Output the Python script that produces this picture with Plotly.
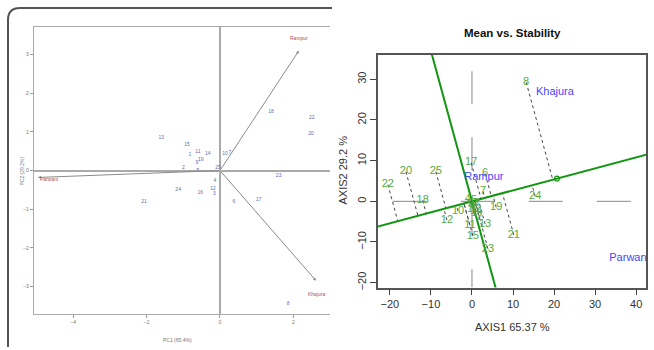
import numpy as np
import plotly.graph_objects as go

W, H = 654, 350

# ---------------- Left panel: PCA biplot ----------------
left_gen_labels = ["13", "15", "1", "11", "14", "9", "19", "10", "7", "2", "5", "25",
                   "4", "23", "24", "16", "12", "3", "21", "6", "17", "8", "18", "22", "20"]
left_gen_x = [-1.6, -0.9, -0.82, -0.6, -0.33, -0.63, -0.52, 0.14, 0.27, -1.0, -0.6, -0.05,
              -0.14, 1.6, -1.14, -0.54, -0.19, -0.15, -2.07, 0.38, 1.06, 1.86, 1.39, 2.5, 2.48]
left_gen_y = [0.85, 0.67, 0.41, 0.49, 0.44, 0.21, 0.28, 0.44, 0.46, 0.08, 0.0, 0.08,
              -0.26, -0.13, -0.5, -0.57, -0.47, -0.6, -0.8, -0.8, -0.76, -3.46, 1.51, 1.36, 0.95]
left_env_names = ["Rampur", "Khajura", "Parwani"]
left_env_x = [2.15, 2.62, -4.96]
left_env_y = [3.1, -2.85, -0.18]
left_x_ticks = [-4, -2, 0, 2]
left_y_ticks = [-3, -2, -1, 0, 1, 2, 3]
left_x_title = "PC1 (65.4%)"
left_y_title = "PC2 (29.2%)"

# ---------------- Right panel: Mean vs. Stability ----------------
gen_labels = ["8", "20", "25", "17", "6", "22", "18", "7", "24", "19", "10", "12", "13",
              "11", "15", "21", "23", "4", "5", "9", "3", "14", "16", "1", "2"]
gen_x = [13.2, -16.1, -8.8, -0.2, 3.2, -20.5, -12.0, 2.7, 15.4, 5.9, -3.4, -6.1, 3.2,
         -0.5, 0.2, 10.2, 3.9, -1.0, 0.5, -0.3, 1.0, 1.0, 0.3, 0.5, 1.8]
gen_y = [29.3, 7.3, 7.3, 9.5, 6.8, 4.1, 0.2, 2.4, 1.2, -1.5, -2.4, -4.6, -5.6,
         -5.9, -8.5, -8.3, -11.7, 0.5, 0.3, -0.8, -0.5, -2.5, -2.0, -3.0, -3.8]
env_names = ["Khajura", "Rampur", "Parwani"]
env_x = [20.2, 2.9, 38.3]
env_y = [26.8, 5.9, -14.1]
avg_env = [20.7, 5.6]          # average environment coordinate
right_x_ticks = [-20, -10, 0, 10, 20, 30, 40]
right_y_ticks = [-20, -10, 0, 10, 20, 30]
right_title = "Mean vs. Stability"
right_x_title = "AXIS1 65.37 %"
right_y_title = "AXIS2 29.2 %"


def px(x):
    return x / W


def py(y):
    return 1 - y / H


FONT = "Liberation Sans, Arial, sans-serif"
GEN_COL = "#5aaa3c"
ENV_COL = "#4646ff"
ATC_COL = "#129612"

fig = go.Figure()

# ---- left panel traces
fig.add_trace(go.Scatter(
    x=left_gen_x, y=left_gen_y, text=left_gen_labels, mode="text",
    textfont=dict(family=FONT, size=5, color="#6a6ab0"),
    xaxis="x", yaxis="y", hoverinfo="skip", showlegend=False))

annotations = []
for name, ex, ey in zip(left_env_names, left_env_x, left_env_y):
    annotations.append(dict(
        x=ex, y=ey, ax=0, ay=0, xref="x", yref="y", axref="x", ayref="y",
        showarrow=True, arrowhead=2, arrowsize=0.6, arrowwidth=1,
        arrowcolor="#8a8a8a", text=""))
shifts = {"Rampur": (0, 13), "Khajura": (0, -13), "Parwani": (11, -2)}
for name, ex, ey in zip(left_env_names, left_env_x, left_env_y):
    xs, ys = shifts[name]
    annotations.append(dict(
        x=ex, y=ey, xref="x", yref="y", text=name, showarrow=False,
        xanchor="center", yanchor="middle",
        xshift=xs, yshift=ys, font=dict(family=FONT, size=5, color="#b05050")))

# ---- right panel traces
d = np.array(avg_env, dtype=float)
d = d / np.linalg.norm(d)
perp = np.array([-d[1], d[0]])
T = np.array([-200.0, 200.0])

# projections (dotted)
px_list, py_list = [], []
for gx, gy in zip(gen_x, gen_y):
    t = gx * d[0] + gy * d[1]
    px_list += [gx, t * d[0], None]
    py_list += [gy, t * d[1], None]
fig.add_trace(go.Scatter(
    x=px_list, y=py_list, mode="lines",
    line=dict(color="#444444", width=1, dash="dot"),
    xaxis="x2", yaxis="y2", hoverinfo="skip", showlegend=False))

# ATC abscissa and ordinate
fig.add_trace(go.Scatter(
    x=T * d[0], y=T * d[1], mode="lines", line=dict(color=ATC_COL, width=2),
    xaxis="x2", yaxis="y2", hoverinfo="skip", showlegend=False))
fig.add_trace(go.Scatter(
    x=T * perp[0], y=T * perp[1], mode="lines", line=dict(color=ATC_COL, width=2),
    xaxis="x2", yaxis="y2", hoverinfo="skip", showlegend=False))
fig.add_trace(go.Scatter(
    x=[avg_env[0]], y=[avg_env[1]], mode="markers",
    marker=dict(symbol="circle-open", size=5, color=ATC_COL, line=dict(width=1.2)),
    xaxis="x2", yaxis="y2", hoverinfo="skip", showlegend=False))

fig.add_trace(go.Scatter(
    x=gen_x, y=gen_y, text=gen_labels, mode="text",
    textfont=dict(family=FONT, size=11, color=GEN_COL),
    xaxis="x2", yaxis="y2", hoverinfo="skip", showlegend=False))
fig.add_trace(go.Scatter(
    x=env_x, y=env_y, text=env_names, mode="text",
    textfont=dict(family=FONT, size=11, color=ENV_COL),
    xaxis="x2", yaxis="y2", hoverinfo="skip", showlegend=False, cliponaxis=True))

shapes = [
    # dashed reference lines through origin (right panel)
    dict(type="line", xref="x2", yref="y2", x0=-19.3, x1=42.4, y0=0, y1=0,
         line=dict(color="#888888", width=1, dash="34px,34px"), layer="below"),
    dict(type="line", xref="x2", yref="y2", x0=0, x1=0, y0=32.0, y1=-21.2,
         line=dict(color="#888888", width=1, dash="33px,33px"), layer="below"),
    # outer rounded border of left panel
    dict(type="path", xref="paper", yref="paper",
         path=f"M {px(8)},{py(350)} L {px(8)},{py(20)} Q {px(8)},{py(8)} {px(20)},{py(8)} L {px(332)},{py(8)}",
         line=dict(color="#555555", width=2)),
]

# titles / axis labels
annotations += [
    dict(x=px(512), y=py(33), xref="paper", yref="paper", text="<b>" + right_title + "</b>",
         xanchor="center", yanchor="middle",
         showarrow=False, font=dict(family=FONT, size=11.5, color="#111111")),
    dict(x=px(512), y=py(330), xref="paper", yref="paper", text=right_x_title,
         xanchor="center", yanchor="middle",
         showarrow=False, font=dict(family=FONT, size=11, color="#333333")),
    dict(x=px(343), y=py(172), xref="paper", yref="paper", text=right_y_title, textangle=-90,
         xanchor="center", yanchor="middle",
         showarrow=False, font=dict(family=FONT, size=11, color="#333333")),
    dict(x=px(177), y=py(343), xref="paper", yref="paper", text=left_x_title,
         xanchor="center", yanchor="middle",
         showarrow=False, font=dict(family=FONT, size=5, color="#777777")),
    dict(x=px(22), y=py(172), xref="paper", yref="paper", text=left_y_title, textangle=-90,
         xanchor="center", yanchor="middle",
         showarrow=False, font=dict(family=FONT, size=5, color="#777777")),
]

fig.update_layout(
    width=W, height=H, margin=dict(l=0, r=0, t=0, b=0),
    paper_bgcolor="white", plot_bgcolor="white", showlegend=False,
    xaxis=dict(domain=[px(34), px(330)], range=[-5.07, 3.0], anchor="y",
               tickvals=left_x_ticks, ticks="outside", ticklen=3, tickcolor="#999999",
               tickfont=dict(family=FONT, size=5, color="#777777"),
               showline=True, linecolor="#aaaaaa", linewidth=1.2, mirror=True,
               showgrid=False, zeroline=True, zerolinecolor="#aaaaaa", zerolinewidth=1.5),
    yaxis=dict(domain=[py(317), py(27)], range=[-3.72, 3.72], anchor="x",
               tickvals=left_y_ticks, ticks="outside", ticklen=3, tickcolor="#999999",
               tickfont=dict(family=FONT, size=5, color="#777777"),
               showline=True, linecolor="#aaaaaa", linewidth=1.2, mirror=False,
               showgrid=False, zeroline=True, zerolinecolor="#aaaaaa", zerolinewidth=1.5),
    xaxis2=dict(domain=[px(378), px(646)], range=[-22.9, 42.4], anchor="y2",
                tickvals=right_x_ticks, ticks="outside", ticklen=6, tickcolor="#444444",
                tickfont=dict(family=FONT, size=11, color="#333333"),
                showline=True, linecolor="#555555", linewidth=1.5, mirror=True,
                showgrid=False, zeroline=False),
    yaxis2=dict(domain=[py(290), py(55)], range=[-21.2, 36.1], anchor="x2",
                tickvals=right_y_ticks, ticks="outside", ticklen=6, tickcolor="#444444",
                tickangle=-90,
                tickfont=dict(family=FONT, size=11, color="#333333"),
                showline=True, linecolor="#555555", linewidth=1.5, mirror=True,
                showgrid=False, zeroline=False),
    shapes=shapes, annotations=annotations,
)

fig.write_html("out.html", config={"displayModeBar": False},
               post_script="document.body.style.margin='0px';document.body.style.overflow='hidden';")
